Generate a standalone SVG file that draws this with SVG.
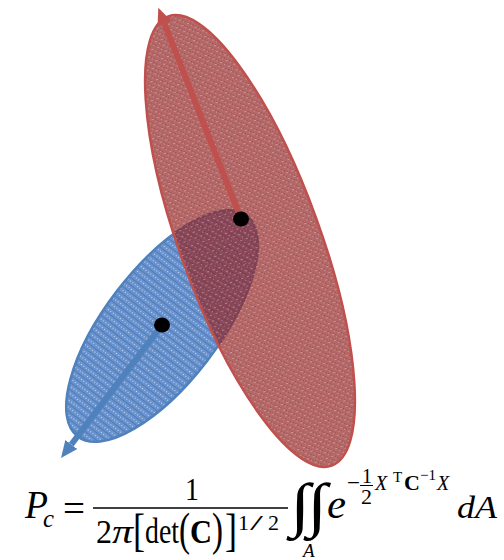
<svg xmlns="http://www.w3.org/2000/svg" width="504" height="560" viewBox="0 0 504 560">
<style>
.m{font-family:"Liberation Serif","Times New Roman",serif;fill:#000}
.i{font-style:italic}
.b{font-weight:bold}
</style>
<defs>
<pattern id="blueTex" width="6" height="6" patternUnits="userSpaceOnUse">
<rect width="6" height="6" fill="#6a93cd"/>
<rect y="0" width="6" height="1" fill="#4d7bbb"/>
<rect x="1" y="3" width="1" height="1" fill="#c9daf0"/>
<rect x="4" y="3" width="1" height="1" fill="#c9daf0"/>
</pattern>
<pattern id="redTex" width="6" height="6" patternUnits="userSpaceOnUse">
<rect width="6" height="6" fill="#952828" fill-opacity="0.7"/>
<rect x="0" y="0" width="1" height="1" fill="#7a1818" fill-opacity="0.35"/>
<rect x="2" y="2" width="1" height="1" fill="#7a1818" fill-opacity="0.35"/>
<rect x="4" y="4" width="1" height="1" fill="#7a1818" fill-opacity="0.35"/>
<rect x="1" y="3" width="2" height="1" fill="#ffffff" fill-opacity="0.35"/>
<rect x="4" y="0" width="1" height="1" fill="#ffffff" fill-opacity="0.3"/>
</pattern>
<marker id="arrRed" markerUnits="userSpaceOnUse" markerWidth="18" markerHeight="16" viewBox="0 -8 18 16" refX="0" refY="0" orient="auto">
<path d="M0,-7.5 L17,0 L0,7.5 z" fill="#c0504d"/>
</marker>
<marker id="arrBlue" markerUnits="userSpaceOnUse" markerWidth="18" markerHeight="16" viewBox="0 -8 18 16" refX="0" refY="0" orient="auto">
<path d="M0,-7.5 L17,0 L0,7.5 z" fill="#4f81bd"/>
</marker>
</defs>

<g id="blue-ellipse">
<ellipse cx="162" cy="326" rx="57" ry="139" transform="rotate(37.4 162 326)" fill="url(#blueTex)" stroke="#4f81bd" stroke-width="2.5"/>
</g>
<g id="red-ellipse">
<ellipse cx="250" cy="241" rx="70" ry="239" transform="rotate(-20 250 241)" fill="url(#redTex)" stroke="#c0504d" stroke-width="2.5"/>
</g>

<g id="connectors">
<line x1="241" y1="219" x2="164.5" y2="23.7" stroke="#c0504d" stroke-width="6" marker-end="url(#arrRed)"/>
<line x1="162" y1="325" x2="71.3" y2="444.5" stroke="#4f81bd" stroke-width="6" marker-end="url(#arrBlue)"/>
</g>

<g id="red-center">
<ellipse cx="241" cy="219" rx="8" ry="7.5" fill="#000"/>
</g>
<g id="blue-center">
<ellipse cx="162" cy="325" rx="8" ry="7.5" fill="#000"/>
</g>

<g id="formula" class="m">
<text class="i" x="25" y="518" font-size="39" textLength="23" lengthAdjust="spacingAndGlyphs">P</text>
<text class="i" x="43" y="527" font-size="25" textLength="11" lengthAdjust="spacingAndGlyphs">c</text>
<text x="63" y="521" font-size="38" textLength="22" lengthAdjust="spacingAndGlyphs">=</text>
<line x1="93" y1="508" x2="288" y2="508" stroke="#000" stroke-width="1.6"/>
<text x="185" y="500" font-size="32" textLength="14" lengthAdjust="spacingAndGlyphs">1</text>
<text x="96" y="543" font-size="34" textLength="16" lengthAdjust="spacingAndGlyphs">2</text>
<text class="i" x="112" y="543" font-size="34" textLength="21" lengthAdjust="spacingAndGlyphs">π</text>
<text x="133" y="546" font-size="46" textLength="12" lengthAdjust="spacingAndGlyphs">[</text>
<text x="145" y="543" font-size="36" textLength="34" lengthAdjust="spacingAndGlyphs">det</text>
<text x="179" y="545" font-size="46" textLength="11" lengthAdjust="spacingAndGlyphs">(</text>
<text class="b" x="190" y="543" font-size="33" textLength="22" lengthAdjust="spacingAndGlyphs">C</text>
<text x="212" y="545" font-size="46" textLength="11" lengthAdjust="spacingAndGlyphs">)</text>
<text x="225" y="546" font-size="46" textLength="12" lengthAdjust="spacingAndGlyphs">]</text>
<text x="238" y="530" font-size="22">1</text>
<text x="250" y="530" font-size="22" textLength="13" lengthAdjust="spacingAndGlyphs">/</text>
<text x="268" y="530" font-size="22">2</text>
<text x="290" y="525" font-size="60" textLength="20" lengthAdjust="spacingAndGlyphs">∫</text>
<text x="307" y="525" font-size="60" textLength="20" lengthAdjust="spacingAndGlyphs">∫</text>
<text class="i" x="303" y="557" font-size="19">A</text>
<text class="i" x="327" y="518" font-size="43" textLength="19" lengthAdjust="spacingAndGlyphs">e</text>
<text x="347" y="490" font-size="22" textLength="13" lengthAdjust="spacingAndGlyphs">−</text>
<text x="362" y="483" font-size="20">1</text>
<line x1="360" y1="485.5" x2="373" y2="485.5" stroke="#000" stroke-width="1"/>
<text x="361" y="504" font-size="22">2</text>
<text class="i" x="375" y="490" font-size="20">X</text>
<text x="393" y="482" font-size="15">T</text>
<text class="b" x="404" y="490" font-size="22">C</text>
<text x="420" y="480" font-size="15">−1</text>
<text class="i" x="437" y="490" font-size="20">X</text>
<text class="i" x="457" y="518" font-size="32" textLength="40" lengthAdjust="spacingAndGlyphs">dA</text>
</g>
</svg>
